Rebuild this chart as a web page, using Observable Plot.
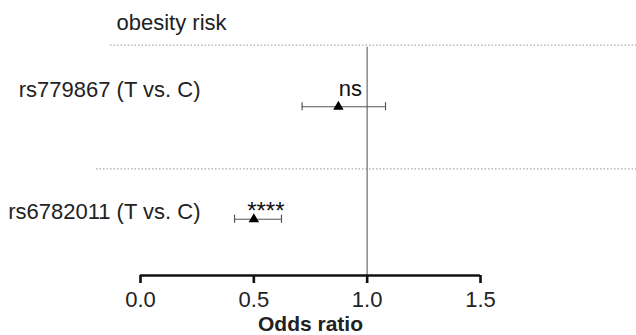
<!DOCTYPE html>
<html><head><meta charset="utf-8">
<script src="https://cdn.jsdelivr.net/npm/d3@7"></script>
<script src="https://cdn.jsdelivr.net/npm/@observablehq/plot@0.6"></script>
<style>body{margin:0;background:#fff}</style>
</head><body><div id="chart"></div>
<script>
const groupTitle = "obesity risk";
const snps = ["rs779867 (T vs. C)", "rs6782011 (T vs. C)"];
const oddsRatio = [0.873, 0.50];
const ciLow = [0.713, 0.415];
const ciHigh = [1.081, 0.622];
const significance = ["ns", "****"];
const xTicks = [0, 0.5, 1.0, 1.5];
const xLabel = "Odds ratio";

const rows = snps.map((s, i) => ({snp: s, row: i + 1, or: oddsRatio[i], lo: ciLow[i], hi: ciHigh[i], sig: significance[i]}));

const chart = Plot.plot({
  width: 636,
  height: 335,
  marginLeft: 140,
  marginRight: 156,
  marginTop: 50,
  marginBottom: 60,
  style: {fontFamily: "'Liberation Sans', Arial, sans-serif", color: "#222", background: "#fff"},
  x: {domain: [0, 1.5]},
  y: {domain: [0.5, 2.5], reverse: true, axis: null},
  marks: [
    // dotted group separators
    Plot.ruleY(rows, {y: d => d.row - (d.row === 1 ? 0.548 : 0.447), x1: d => d.row === 1 ? -0.132 : -0.194, x2: 2.19, stroke: "#aaa", strokeWidth: 1.3, strokeDasharray: "1.5,2"}),
    // reference line at OR = 1
    Plot.ruleX([1], {y1: 0.47, y2: 2.5, stroke: "#888", strokeWidth: 1.5}),
    // x axis
    Plot.ruleY([2.5], {x1: 0, x2: 1.5, stroke: "#111", strokeWidth: 2.6}),
    Plot.axisX({ticks: xTicks, tickFormat: d3.format(".1f"), tickSize: 8, strokeWidth: 2.6, stroke: "#111", tickPadding: 8, fontSize: 22, label: null, fill: "#222"}),
    Plot.text([xLabel], {x: 0.75, frameAnchor: "bottom", lineAnchor: "middle", dy: 49, fontSize: 21, fontWeight: "bold", fill: "#222"}),
    // group title
    Plot.text([groupTitle], {x: 0, frameAnchor: "top", lineAnchor: "middle", textAnchor: "start", dx: -24, dy: -28, fontSize: 22, fill: "#222"}),
    // row labels
    Plot.text(rows, {x: 0, y: d => d.row - (d.row === 1 ? 0.147 : 0.062), text: "snp", textAnchor: "end", dx: 60, fontSize: 22, fill: "#222"}),
    // error bars
    Plot.ruleY(rows, {y: "row", x1: "lo", x2: "hi", stroke: "#555", strokeWidth: 1.2}),
    Plot.ruleX(rows, {x: "lo", y1: d => d.row - 0.036, y2: d => d.row + 0.036, stroke: "#555", strokeWidth: 1.2}),
    Plot.ruleX(rows, {x: "hi", y1: d => d.row - 0.036, y2: d => d.row + 0.036, stroke: "#555", strokeWidth: 1.2}),
    // point estimates
    Plot.dot(rows, {x: "or", y: "row", symbol: "triangle", fill: "black", stroke: "none", r: 3.9}),
    // significance
    Plot.text(rows, {x: "or", y: d => d.row - (d.sig === "ns" ? 0.16 : 0.075), text: "sig", dx: 12, fontSize: d => d.sig === "ns" ? 22 : 24, letterSpacing: d => d.sig === "ns" ? "0px" : "1px", fill: "#111"})
  ]
});
document.getElementById("chart").appendChild(chart);
</script>
</body></html>
